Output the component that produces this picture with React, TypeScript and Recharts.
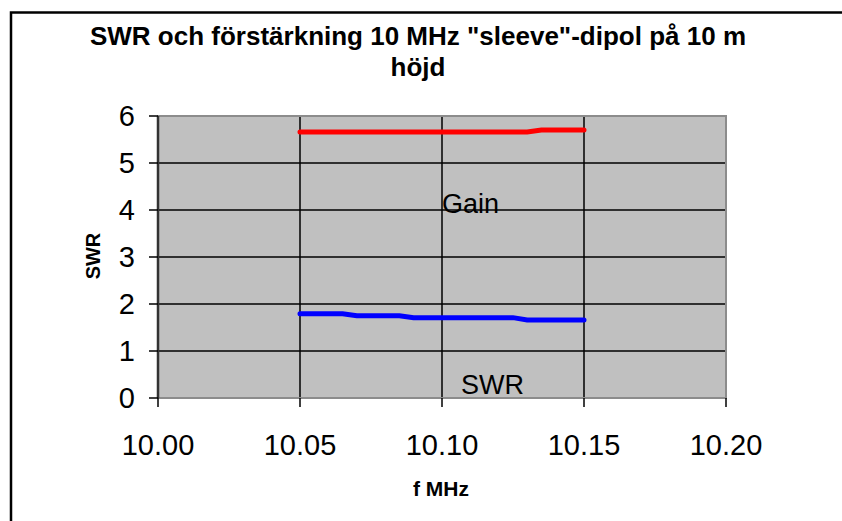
import React from 'react';
import { LineChart, Line, XAxis, YAxis, CartesianGrid, ReferenceArea } from 'recharts';

const freqs = [
  10.05, 10.055, 10.06, 10.065, 10.07, 10.075, 10.08, 10.085, 10.09, 10.095, 10.1,
  10.105, 10.11, 10.115, 10.12, 10.125, 10.13, 10.135, 10.14, 10.145, 10.15,
];
const swrValues = [
  1.79, 1.79, 1.79, 1.79, 1.75, 1.75, 1.75, 1.75, 1.71, 1.71, 1.71,
  1.71, 1.71, 1.71, 1.71, 1.71, 1.66, 1.66, 1.66, 1.66, 1.66,
];
const gainValues = [
  5.66, 5.66, 5.66, 5.66, 5.66, 5.66, 5.66, 5.66, 5.66, 5.66, 5.66,
  5.66, 5.66, 5.66, 5.66, 5.66, 5.66, 5.7, 5.7, 5.7, 5.7,
];
const xTicks = [10.0, 10.05, 10.1, 10.15, 10.2];
const yTicks = [0, 1, 2, 3, 4, 5, 6];

const data = freqs.map((f, i) => ({ f, swr: swrValues[i], gain: gainValues[i] }));

const font = '"Liberation Sans", Arial, sans-serif';

const App: React.FC = () => {
  return (
    <div style={{ position: 'absolute', left: 0, top: 0, width: 842, height: 521, background: '#fff', fontFamily: font }}>
      <LineChart width={842} height={521} data={data} margin={{ top: 116, right: 116, bottom: 0, left: 0 }}>
        <CartesianGrid stroke="#000" strokeWidth={1.5} fill="#c0c0c0" horizontalValues={yTicks} verticalValues={xTicks} />
        <ReferenceArea x1={10} x2={10.2} y1={0} y2={6} fill="none" stroke="#8c8c8c" strokeWidth={2} ifOverflow="visible" />
        <XAxis
          dataKey="f"
          type="number"
          domain={[10, 10.2]}
          ticks={xTicks}
          tickFormatter={(v: number) => v.toFixed(2)}
          height={123}
          tickSize={9}
          tickMargin={27}
          axisLine={{ stroke: '#8c8c8c', strokeWidth: 2 }}
          tickLine={{ stroke: '#000', strokeWidth: 1.5 }}
          tick={{ fill: '#000', fontSize: 29, fontFamily: font }}
          interval={0}
        />
        <YAxis
          type="number"
          domain={[0, 6]}
          ticks={yTicks}
          width={158}
          tickSize={9}
          tickMargin={14}
          axisLine={{ stroke: '#333', strokeWidth: 2.5 }}
          tickLine={{ stroke: '#000', strokeWidth: 1.5 }}
          tick={{ fill: '#000', fontSize: 29, fontFamily: font }}
          interval={0}
        />
        <Line dataKey="gain" type="linear" stroke="#ff0000" strokeWidth={5} dot={false} isAnimationActive={false} strokeLinecap="round" />
        <Line dataKey="swr" type="linear" stroke="#0000ff" strokeWidth={5} dot={false} isAnimationActive={false} strokeLinecap="round" />
      </LineChart>
      <svg width={842} height={521} style={{ position: 'absolute', left: 0, top: 0, pointerEvents: 'none' }}>
        <rect x={11} y={12.5} width={900} height={600} fill="none" stroke="#000" strokeWidth={2.5} />
        <text x={418} y={45} textAnchor="middle" fontSize={26} fontWeight="bold" fontFamily={font}>
          SWR och förstärkning 10 MHz "sleeve"-dipol på 10 m
        </text>
        <text x={418} y={76} textAnchor="middle" fontSize={26} fontWeight="bold" fontFamily={font}>
          höjd
        </text>
        <text x={100} y={256} transform="rotate(-90, 100, 256)" textAnchor="middle" fontSize={20} fontWeight="bold" fontFamily={font}>
          SWR
        </text>
        <text x={441} y={496} textAnchor="middle" fontSize={21} fontWeight="bold" fontFamily={font}>
          f MHz
        </text>
        <text x={442} y={213} fontSize={27} fontFamily={font}>
          Gain
        </text>
        <text x={461} y={394} fontSize={27} fontFamily={font}>
          SWR
        </text>
      </svg>
    </div>
  );
};

export default App;
